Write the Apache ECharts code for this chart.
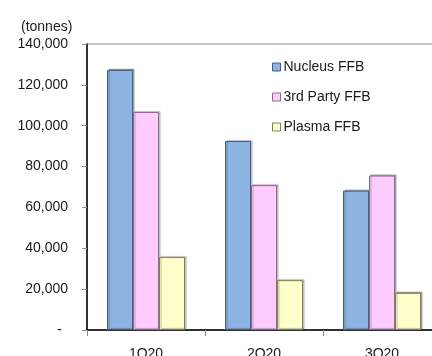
<!DOCTYPE html>
<html>
<head>
<meta charset="utf-8">
<script src="https://cdn.jsdelivr.net/npm/echarts@6/dist/echarts.min.js"></script>
<style>
  html, body { margin: 0; padding: 0; background: #fff; }
  #chart { width: 432px; height: 356px; }
</style>
</head>
<body>
<div id="chart"></div>
<script>
// Quarterly FFB volumes (tonnes)
const quarters = ['1Q20', '2Q20', '3Q20'];
const nucleusFFB = [127300, 92500, 68200];
const thirdPartyFFB = [106700, 70900, 75600];
const plasmaFFB = [35700, 24400, 18200];
const seriesNames = ['Nucleus FFB', '3rd Party FFB', 'Plasma FFB'];

const FONT = '"Liberation Sans", Arial, sans-serif';

const chart = echarts.init(document.getElementById('chart'), null, { renderer: 'canvas' });

function barSeries(name, data, fill, border) {
  return {
    name: name,
    type: 'bar',
    data: data,
    barWidth: 26,
    barGap: '0%',
    itemStyle: {
      color: fill,
      borderColor: border,
      borderWidth: 1,
      shadowColor: 'rgba(0,0,0,0.28)',
      shadowBlur: 1,
      shadowOffsetX: 1.5,
      shadowOffsetY: -1
    },
    emphasis: { disabled: true }
  };
}

chart.setOption({
  animation: false,
  backgroundColor: '#ffffff',
  textStyle: { fontFamily: FONT },
  grid: {
    left: 87, top: 44, bottom: 26, right: -9,
    outerBoundsMode: 'none',
    containLabel: false,
    show: true, borderColor: '#8c8c8c', borderWidth: 1
  },
  title: {
    text: '(tonnes)',
    left: 16, top: 15,
    textStyle: { fontFamily: FONT, fontSize: 14, fontWeight: 'normal', color: '#1a1a1a' }
  },
  legend: {
    orient: 'vertical',
    left: 267, top: 55,
    itemWidth: 8, itemHeight: 8,
    itemGap: 16,
    icon: 'rect',
    textStyle: { fontFamily: FONT, fontSize: 14, color: '#1a1a1a', padding: [0, 0, 0, -2] },
    itemStyle: { borderWidth: 1, shadowBlur: 0, shadowOffsetX: 0, shadowOffsetY: 0 },
    data: seriesNames
  },
  xAxis: {
    type: 'category',
    data: quarters,
    axisLine: { lineStyle: { color: '#000', width: 1.5 } },
    axisTick: { show: true, length: 6, lineStyle: { color: '#8c8c8c' } },
    axisLabel: { fontFamily: FONT, fontSize: 14, color: '#1a1a1a', margin: 17 },
    splitLine: { show: false }
  },
  yAxis: {
    type: 'value',
    min: 0, max: 140000, interval: 20000,
    axisLine: { show: true, lineStyle: { color: '#000', width: 1.5 } },
    axisTick: { show: true, length: 5, lineStyle: { color: '#8c8c8c' } },
    splitLine: { show: false },
    axisLabel: {
      fontFamily: FONT, fontSize: 14, color: '#1a1a1a', margin: 19,
      formatter: function (v) {
        return v === 0 ? '{dash|-}' : v.toLocaleString('en-US');
      },
      rich: { dash: { fontFamily: FONT, fontSize: 14, color: '#1a1a1a', padding: [0, 6, 0, 0] } }
    }
  },
  series: [
    barSeries(seriesNames[0], nucleusFFB, '#8db3e2', '#475f7f'),
    barSeries(seriesNames[1], thirdPartyFFB, '#ffccff', '#8a6a8a'),
    barSeries(seriesNames[2], plasmaFFB, '#ffffcc', '#7f7f5a')
  ]
});
</script>
</body>
</html>
